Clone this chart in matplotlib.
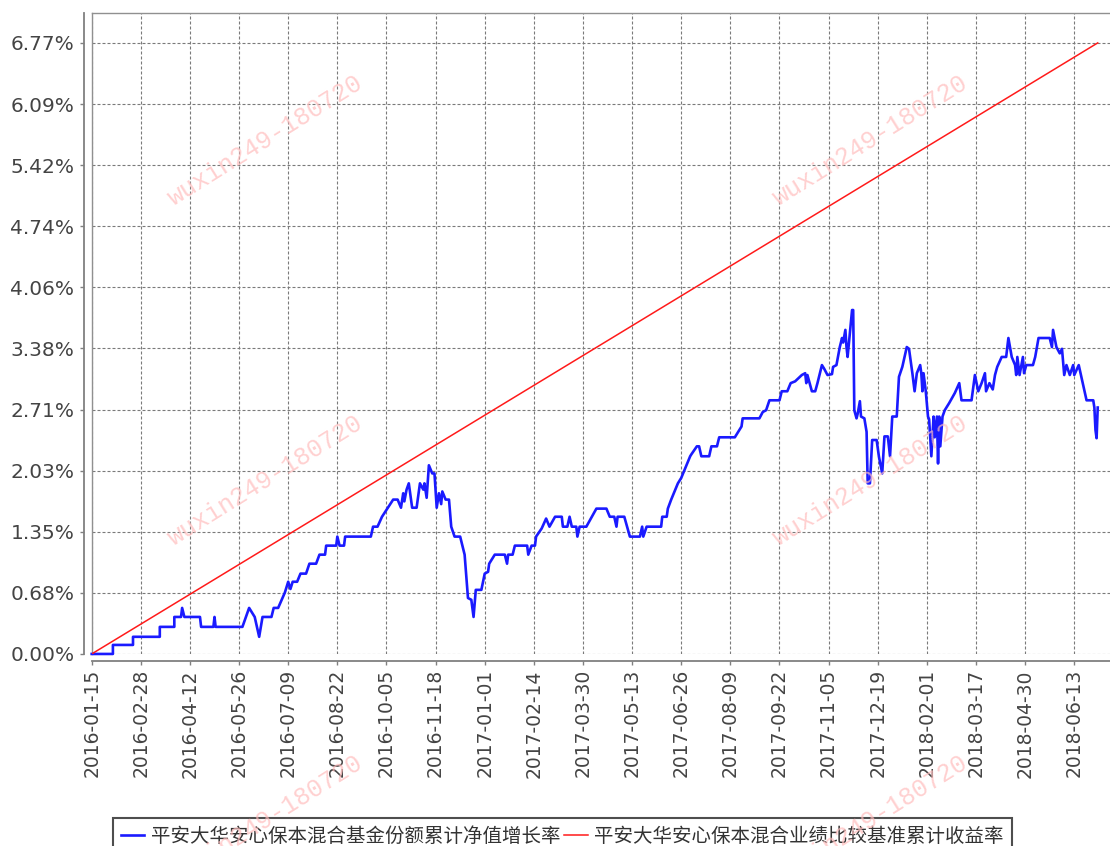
import pandas as pd
import matplotlib
matplotlib.use('Agg')
import matplotlib.pyplot as plt
from matplotlib.lines import Line2D

# Series (days counted from the first date)
start_date = '2016-01-15'
nav_days = [0, 19, 19, 37, 37, 61, 61, 74, 74, 80, 81, 83, 97, 98, 109, 110, 111, 135, 141, 146,
            150, 153, 161, 163, 167, 173, 176, 178, 180, 184, 187, 192, 195, 201, 204, 209, 210, 219, 220, 222,
            226, 227, 250, 252, 256, 260, 270, 274, 277, 279, 280, 282, 284, 287, 291, 294, 297, 298, 300, 302,
            305, 307, 309, 311, 313, 314, 317, 320, 322, 325, 330, 334, 337, 340, 342, 344, 349, 352, 355, 356,
            361, 370, 372, 373, 377, 379, 390, 391, 394, 397, 398, 403, 407, 410, 415, 421, 422, 426, 428, 430,
            434, 435, 437, 443, 448, 452, 461, 464, 468, 470, 471, 477, 482, 491, 493, 494, 497, 510, 511, 515,
            516, 519, 525, 528, 531, 536, 537, 542, 544, 546, 553, 555, 560, 562, 576, 582, 583, 598, 601, 604,
            607, 616, 618, 623, 626, 630, 636, 639, 640, 641, 643, 645, 648, 650, 654, 656, 659, 663, 664, 667,
            670, 672, 673, 675, 676, 677, 681, 682, 683, 685, 686, 688, 689, 692, 694, 695, 697, 699, 703, 705,
            708, 710, 713, 715, 717, 721, 723, 726, 730, 732, 735, 737, 739, 742, 743, 744, 745, 747, 749, 750,
            752, 754, 755, 757, 758, 759, 760, 762, 764, 768, 773, 777, 779, 788, 791, 794, 797, 800, 801, 804,
            807, 809, 811, 815, 819, 821, 824, 827, 828, 829, 831, 834, 835, 837, 843, 845, 848, 858, 860, 861,
            864, 867, 869, 871, 873, 876, 879, 880, 884, 886, 891, 897, 898, 899, 900, 901]
nav_pct = [0.00, 0.00, 0.10, 0.10, 0.19, 0.19, 0.30, 0.30, 0.41, 0.41, 0.51, 0.41, 0.41, 0.30, 0.30, 0.41, 0.30, 0.30, 0.51, 0.41,
           0.19, 0.41, 0.41, 0.51, 0.51, 0.68, 0.80, 0.72, 0.80, 0.80, 0.89, 0.89, 1.00, 1.00, 1.10, 1.10, 1.20, 1.20, 1.30, 1.20,
           1.20, 1.30, 1.30, 1.41, 1.41, 1.52, 1.71, 1.71, 1.62, 1.78, 1.69, 1.82, 1.89, 1.62, 1.62, 1.89, 1.82, 1.89, 1.73, 2.09,
           2.00, 2.00, 1.62, 1.78, 1.66, 1.80, 1.71, 1.71, 1.41, 1.30, 1.30, 1.10, 0.62, 0.60, 0.41, 0.71, 0.71, 0.89, 0.91, 1.00,
           1.10, 1.10, 1.00, 1.10, 1.10, 1.20, 1.20, 1.10, 1.20, 1.20, 1.30, 1.39, 1.50, 1.41, 1.52, 1.52, 1.41, 1.41, 1.52, 1.41,
           1.41, 1.30, 1.41, 1.41, 1.52, 1.61, 1.61, 1.52, 1.52, 1.41, 1.52, 1.52, 1.30, 1.30, 1.41, 1.30, 1.41, 1.41, 1.52, 1.52,
           1.61, 1.71, 1.89, 1.95, 2.04, 2.19, 2.21, 2.30, 2.30, 2.19, 2.19, 2.30, 2.30, 2.40, 2.40, 2.52, 2.61, 2.61, 2.68, 2.70,
           2.81, 2.81, 2.91, 2.91, 3.00, 3.02, 3.09, 3.11, 3.00, 3.09, 3.00, 2.91, 2.91, 3.00, 3.20, 3.16, 3.09, 3.10, 3.18, 3.20,
           3.40, 3.50, 3.45, 3.59, 3.40, 3.29, 3.81, 3.81, 2.70, 2.61, 2.66, 2.80, 2.63, 2.61, 2.46, 1.89, 1.89, 2.37, 2.37, 2.19,
           2.00, 2.41, 2.41, 2.19, 2.63, 2.63, 3.07, 3.18, 3.40, 3.38, 3.11, 2.91, 3.11, 3.20, 3.11, 2.91, 3.11, 2.91, 2.63, 2.60,
           2.19, 2.63, 2.40, 2.63, 2.11, 2.63, 2.30, 2.63, 2.70, 2.78, 2.89, 3.00, 2.81, 2.81, 3.09, 2.91, 3.00, 3.11, 2.91, 3.00,
           2.93, 3.09, 3.18, 3.29, 3.29, 3.50, 3.29, 3.20, 3.09, 3.29, 3.09, 3.29, 3.11, 3.20, 3.20, 3.29, 3.50, 3.50, 3.40, 3.59,
           3.40, 3.33, 3.38, 3.09, 3.20, 3.09, 3.20, 3.09, 3.20, 3.09, 2.81, 2.81, 2.73, 2.48, 2.39, 2.73]

bench_dates = ['2016-01-15', '2018-07-04']
bench_pct = [0.0, 6.769]

y_ticks = [0.0, 0.6769, 1.3538, 2.0307, 2.7076, 3.3845, 4.0614, 4.7383, 5.4152, 6.0921, 6.769]
y_labels = ['0.00%', '0.68%', '1.35%', '2.03%', '2.71%', '3.38%', '4.06%', '4.74%', '5.42%', '6.09%', '6.77%']
x_labels = ['2016-01-15', '2016-02-28', '2016-04-12', '2016-05-26', '2016-07-09', '2016-08-22', '2016-10-05',
            '2016-11-18', '2017-01-01', '2017-02-14', '2017-03-30', '2017-05-13', '2017-06-26', '2017-08-09',
            '2017-09-22', '2017-11-05', '2017-12-19', '2018-02-01', '2018-03-17', '2018-04-30', '2018-06-13']
series_names = ['平安大华安心保本混合基金份额累计净值增长率', '平安大华安心保本混合业绩比较基准累计收益率']
watermark = 'wuxin249-180720'

start = pd.Timestamp(start_date)
nav_dates = start + pd.to_timedelta(nav_days, unit='D')

fig = plt.figure(figsize=(11.1, 8.46), dpi=100)
ax = fig.add_axes([0.0826, 0.2270, 0.9174, 0.7576])

ax.plot(nav_dates, nav_pct, color='#1a1aff', lw=1.9, zorder=3, clip_on=False)
ax.plot(pd.to_datetime(bench_dates), bench_pct, color='#ff1a1a', lw=1.1, zorder=3)

ax.set_xlim(start, start + pd.Timedelta(days=912))
ax.set_ylim(0, 7.10)

ax.set_yticks(y_ticks)
ax.set_yticklabels(y_labels)
ax.set_xticks(pd.to_datetime(x_labels))
ax.set_xticklabels(x_labels)

ax.grid(True, color='#7a7a7a', lw=0.8, linestyle=(0, (2.7, 1.8)))
ax.set_axisbelow(True)

# axis lines set off from the data area, JFreeChart style
for side in ['left', 'bottom']:
    ax.spines[side].set_color('#808080')
    ax.spines[side].set_linewidth(1.3)
ax.spines['left'].set_position(('outward', 5.5))
ax.spines['bottom'].set_position(('outward', 5))
ax.spines['top'].set_color('#909090')
ax.spines['top'].set_linewidth(1.0)
ax.spines['right'].set_visible(False)
ax.plot([0, 0], [0, 1], transform=ax.transAxes, color='#909090', lw=1.0, clip_on=False)

ax.tick_params(axis='y', length=3, width=1, color='#808080', pad=4, labelsize=14.5, labelcolor='#444444')
ax.tick_params(axis='x', length=3, width=1, color='#808080', pad=3, labelsize=13.5, labelcolor='#444444',
               labelrotation=90)

# watermarks
for wx, wy in [(265, 140), (870, 140), (265, 480), (870, 480), (265, 820), (870, 820)]:
    fig.text(wx / 1110, 1 - wy / 846, watermark, rotation=32, ha='center', va='center',
             color='#ffbcbc', fontsize=18, family='Liberation Mono', zorder=10, alpha=0.7)

handles = [Line2D([], [], color='#1a1aff', lw=1.9), Line2D([], [], color='#ff1a1a', lw=1.1)]
leg = fig.legend(handles, series_names, loc='upper left', bbox_to_anchor=(113 / 1110, 1 - 818 / 846),
                 ncol=2, frameon=True, fancybox=False, edgecolor='#222222', borderaxespad=0,
                 handlelength=1.2, handletextpad=0.35, columnspacing=0.2, borderpad=0.4,
                 prop={'family': ['Noto Sans CJK SC', 'DejaVu Sans'], 'size': 14})
leg.get_frame().set_linewidth(1.5)
for t in leg.get_texts():
    t.set_color('#333333')

fig.savefig('out.png', dpi=100)
